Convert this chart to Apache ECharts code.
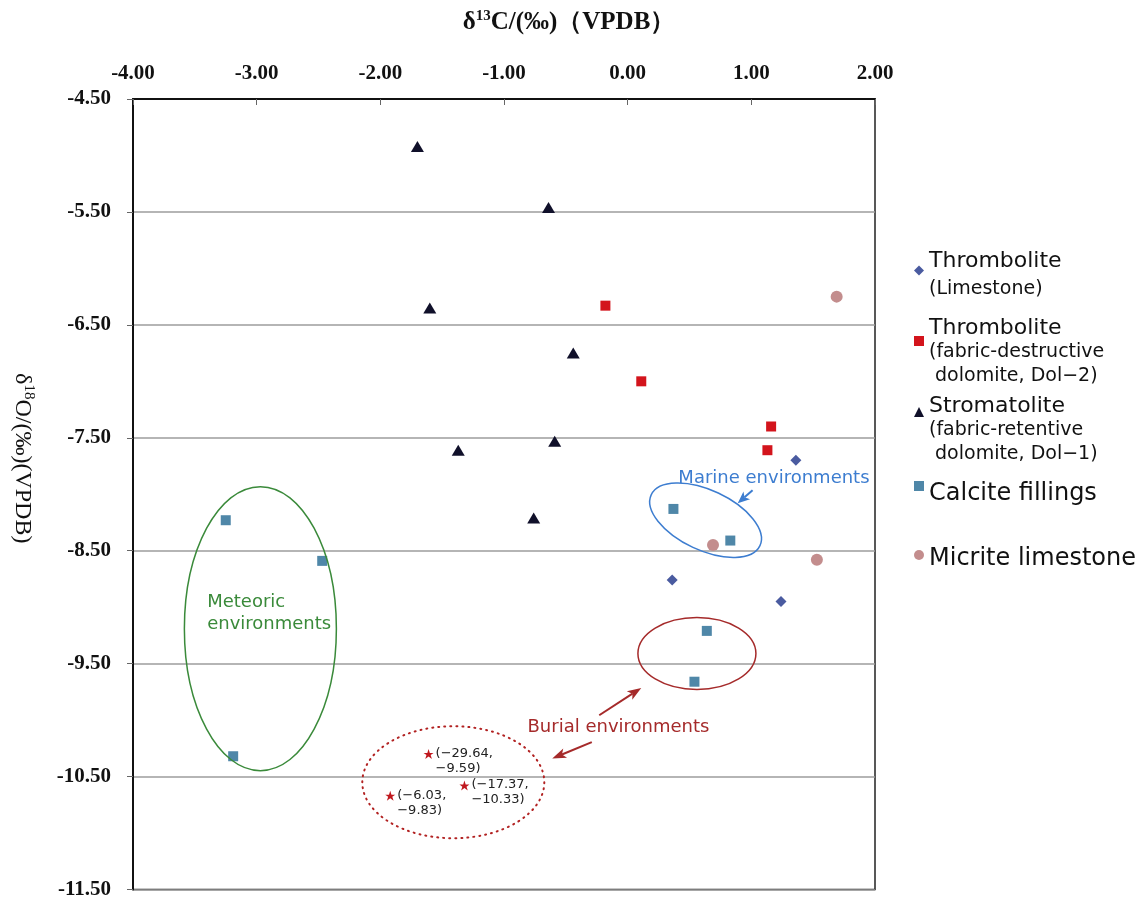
<!DOCTYPE html>
<html>
<head>
<meta charset="utf-8">
<script src="https://cdn.jsdelivr.net/npm/echarts@6/dist/echarts.min.js"></script>
<style>
html, body { margin: 0; padding: 0; background: #fff; }
#main { width: 1145px; height: 900px; }
</style>
</head>
<body>
<div id="main"></div>
<script>
// values: [d13C, d18O]
var limestoneData = [[1.36, -7.70], [0.36, -8.76], [1.24, -8.95]];
var dol2Data = [[-0.18, -6.33], [0.11, -7.00], [1.16, -7.40], [1.13, -7.61]];
var dol1Data = [[-1.70, -4.92], [-0.64, -5.46], [-1.60, -6.35], [-0.44, -6.75], [-1.37, -7.61], [-0.59, -7.53], [-0.76, -8.21]];
var calciteData = [[0.37, -8.13], [0.83, -8.41], [0.64, -9.21], [0.54, -9.66], [-3.25, -8.23], [-2.47, -8.59], [-3.19, -10.32]];
var micriteData = [[1.69, -6.25], [0.69, -8.45], [1.53, -8.58]];

// off-scale samples, drawn inside the dotted ellipse, real values in the labels
var outlierPos = [[-1.61, -10.30], [-1.92, -10.67], [-1.32, -10.58]];
var outlierC = ['−29.64', '−6.03', '−17.37'];
var outlierO = ['−9.59', '−9.83', '−10.33'];

var xRange = [-4, 2];
var yRange = [-11.5, -4.5];

var seriesNames = ['Thrombolite (Limestone)', 'Thrombolite (Dol-2)', 'Stromatolite (Dol-1)', 'Calcite fillings', 'Micrite limestone'];
var legendText = [
    '{t|Thrombolite}\n{s2|(Limestone)}',
    '{t|Thrombolite}\n{s|(fabric-destructive}\n{s| dolomite, Dol−2)}',
    '{t|Stromatolite}\n{s|(fabric-retentive}\n{s| dolomite, Dol−1)}',
    '{b|Calcite fillings}',
    '{b|Micrite limestone}'
];
// legend block placement: top edge and extra space above the text (lifts the icon)
var legendTops = [250, 317, 395, 481, 547];
var legendLift = [12, 22, 36, 16, 8];

var starPath = 'path://M12 0 L15 9 L24 9 L17 14 L20 23 L12 17 L4 23 L7 14 L0 9 L9 9 Z';

var chart = echarts.init(document.getElementById('main'));

var legends = seriesNames.map(function (name, i) {
    return {
        data: [name],
        left: 914,
        top: legendTops[i],
        padding: 0,
        orient: 'vertical',
        itemWidth: 10,
        itemHeight: 10,
        itemGap: 0,
        selectedMode: false,
        formatter: function () { return legendText[i]; },
        textStyle: {
            color: '#111',
            fontFamily: 'DejaVu Sans',
            padding: [legendLift[i], 0, 0, 0],
            rich: {
                t: { fontSize: 22, lineHeight: 25, fontFamily: 'DejaVu Sans', color: '#111' },
                s: { fontSize: 19, lineHeight: 24, fontFamily: 'DejaVu Sans', color: '#111' },
                s2: { fontSize: 19, lineHeight: 31, fontFamily: 'DejaVu Sans', color: '#111' },
                b: { fontSize: 24, lineHeight: 28, fontFamily: 'DejaVu Sans', color: '#111' }
            }
        }
    };
});

var option = {
    backgroundColor: '#fff',
    animation: false,
    grid: {
        left: 133, right: 270, top: 99, bottom: 7,
        show: true, borderColor: '#222', borderWidth: 1.5
    },
    legend: legends,
    xAxis: {
        type: 'value',
        position: 'top',
        min: xRange[0], max: xRange[1], interval: 1,
        axisLine: { show: true, onZero: false, lineStyle: { color: '#111', width: 2 } },
        axisTick: { show: true, inside: true, length: 6, lineStyle: { color: '#666' } },
        axisLabel: {
            formatter: function (v) { return v.toFixed(2); },
            fontFamily: 'Liberation Serif', fontWeight: 'bold', fontSize: 21, color: '#111', margin: 15
        },
        splitLine: { show: false },
        name: '{n|δ}{sup|13}{n|C/(‰)（VPDB）}',
        nameLocation: 'middle',
        nameGap: 62,
        nameTextStyle: {
            padding: [0, 0, 0, 130],
            rich: {
                n: { fontSize: 25, fontWeight: 'bold', fontFamily: 'Liberation Serif', color: '#111', lineHeight: 28 },
                sup: { fontSize: 15, fontWeight: 'bold', fontFamily: 'Liberation Serif', color: '#111', verticalAlign: 'top', lineHeight: 28 }
            }
        }
    },
    yAxis: {
        type: 'value',
        min: yRange[0], max: yRange[1], interval: 1,
        axisLine: { show: true, onZero: false, lineStyle: { color: '#111', width: 2 } },
        axisTick: { show: true, length: 6, lineStyle: { color: '#666' } },
        axisLabel: {
            formatter: function (v) { return v.toFixed(2); },
            fontFamily: 'Liberation Serif', fontWeight: 'bold', fontSize: 21, color: '#111', margin: 22
        },
        splitLine: { show: true, lineStyle: { color: '#9c9c9c', width: 1.5 } },
        name: '{n|δ}{sup|18}{n|O/(‰)(VPDB)}',
        nameLocation: 'middle',
        nameRotate: -90,
        nameGap: 97,
        nameTextStyle: {
            padding: [0, 72, 0, 0],
            rich: {
                n: { fontSize: 24, fontFamily: 'Liberation Serif', color: '#111', lineHeight: 28 },
                sup: { fontSize: 15, fontFamily: 'Liberation Serif', color: '#111', verticalAlign: 'top', lineHeight: 28 }
            }
        }
    },
    series: [
        { name: seriesNames[0], type: 'scatter', data: limestoneData, symbol: 'diamond', symbolSize: 11, itemStyle: { color: '#4A5BA0', opacity: 1 } },
        { name: seriesNames[1], type: 'scatter', data: dol2Data, symbol: 'rect', symbolSize: 10, itemStyle: { color: '#D3141C', opacity: 1 } },
        { name: seriesNames[2], type: 'scatter', data: dol1Data, symbol: 'triangle', symbolSize: [13, 11], itemStyle: { color: '#10102A', opacity: 1 } },
        { name: seriesNames[3], type: 'scatter', data: calciteData, symbol: 'rect', symbolSize: 10, itemStyle: { color: '#4F87A8', opacity: 1 } },
        { name: seriesNames[4], type: 'scatter', data: micriteData, symbol: 'circle', symbolSize: 12, itemStyle: { color: '#C38D8D', opacity: 1 } },
        {
            name: 'outliers', type: 'scatter', symbol: starPath, symbolSize: 10,
            itemStyle: { color: '#C0181E', opacity: 1 },
            data: outlierPos.map(function (p, i) { return { value: p, c: outlierC[i], o: outlierO[i] }; }),
            label: {
                show: true, position: 'right', distance: 2, offset: [0, 7],
                fontFamily: 'DejaVu Sans', fontSize: 13, lineHeight: 15, color: '#222',
                formatter: function (p) { return '(' + p.data.c + ',\n' + p.data.o + ')'; }
            }
        }
    ]
};

chart.setOption(option);

// annotation shapes, anchored to data coordinates
function px(p) { return chart.convertToPixel({ gridIndex: 0 }, p); }

var ellipses = [
    { c: [-2.97, -9.19], rx: 76, ry: 142, rot: 0, color: '#3A8A3A', dash: null },
    { c: [0.63, -8.23], rx: 60, ry: 30, rot: -25, color: '#3D7DD0', dash: null },
    { c: [0.56, -9.41], rx: 59, ry: 36, rot: 0, color: '#A52A2A', dash: null },
    { c: [-1.41, -10.55], rx: 91, ry: 56, rot: 0, color: '#B22222', dash: [1, 5] }
];
var arrows = [
    { from: [1.01, -7.965], to: [0.89, -8.08], color: '#3D7DD0', len: 12, w: 10 },
    { from: [-0.23, -9.957], to: [0.11, -9.715], color: '#A52A2A', len: 14, w: 10 },
    { from: [-0.29, -10.195], to: [-0.61, -10.34], color: '#A52A2A', len: 14, w: 10 }
];
var notes = [
    { at: [0.41, -7.86], text: 'Marine environments', color: '#3D7DD0' },
    { at: [-0.81, -10.063], text: 'Burial environments', color: '#A52A2A' },
    { at: [-3.40, -9.058], text: 'Meteoric\nenvironments', color: '#3A8A3A' }
];

var graphics = [];
ellipses.forEach(function (e) {
    var c = px(e.c);
    graphics.push({
        type: 'ellipse', x: c[0], y: c[1], rotation: e.rot * Math.PI / 180, z: 50,
        shape: { cx: 0, cy: 0, rx: e.rx, ry: e.ry },
        style: { fill: null, stroke: e.color, lineWidth: e.dash ? 2 : 1.5, lineDash: e.dash, lineCap: 'round' }
    });
});
arrows.forEach(function (a) {
    var p0 = px(a.from), p1 = px(a.to);
    var ang = Math.atan2(p1[1] - p0[1], p1[0] - p0[0]);
    var bx = p1[0] - a.len * Math.cos(ang), by = p1[1] - a.len * Math.sin(ang);
    var nx = -Math.sin(ang) * a.w / 2, ny = Math.cos(ang) * a.w / 2;
    var mx = p1[0] - a.len * 0.75 * Math.cos(ang), my = p1[1] - a.len * 0.75 * Math.sin(ang);
    graphics.push({
        type: 'line', z: 50,
        shape: { x1: p0[0], y1: p0[1], x2: mx, y2: my },
        style: { stroke: a.color, lineWidth: 2 }
    });
    graphics.push({
        type: 'polygon', z: 50,
        shape: { points: [[p1[0], p1[1]], [bx + nx, by + ny], [mx, my], [bx - nx, by - ny]] },
        style: { fill: a.color }
    });
});
notes.forEach(function (n) {
    var p = px(n.at);
    graphics.push({
        type: 'text', x: p[0], y: p[1], z: 50,
        style: {
            text: n.text, fill: n.color, fontSize: 18, lineHeight: 22,
            fontFamily: 'DejaVu Sans', verticalAlign: 'middle', align: 'left'
        }
    });
});

chart.setOption({ graphic: graphics });
</script>
</body>
</html>
